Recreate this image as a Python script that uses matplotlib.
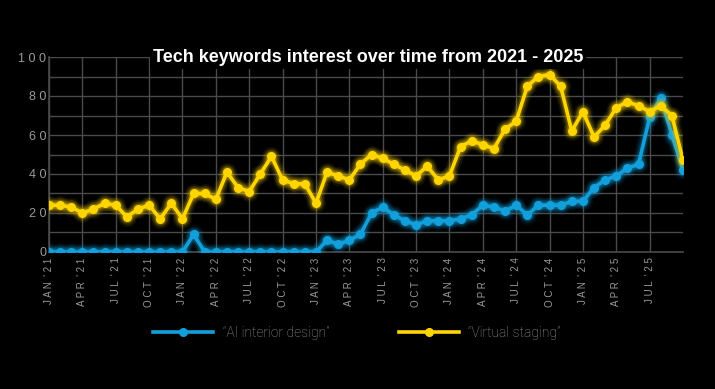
import matplotlib
matplotlib.use("Agg")
import matplotlib.pyplot as plt
import numpy as np

months = ["JAN", "FEB", "MAR", "APR", "MAY", "JUN", "JUL", "AUG", "SEP", "OCT", "NOV", "DEC"]
years = [2021, 2022, 2023, 2024, 2025]
dates = [(m, y) for y in years for m in months][:58]

ai_interior = [0]*12 + [0, 9] + [0]*10 + \
    [0, 6, 4, 6, 9, 20, 23, 19, 16, 14, 16, 16] + \
    [16, 17, 19, 24, 23, 21, 24, 19, 24, 24, 24, 26] + \
    [26, 33, 37, 39, 43, 45, 69, 79, 60, 42]
virtual_staging = [24, 24, 23, 20, 22, 25, 24, 18, 22, 24, 17, 25] + \
    [17, 30, 30, 27, 41, 33, 31, 40, 49, 37, 35, 35] + \
    [25, 41, 39, 37, 45, 50, 48, 45, 42, 39, 44, 37] + \
    [39, 54, 57, 55, 53, 63, 67, 85, 90, 91, 85, 62] + \
    [72, 59, 65, 74, 77, 75, 72, 75, 70, 47]

title = "Tech keywords interest over time from 2021 - 2025"
labels = ["\u201cAI interior design\u201d", "\u201cVirtual staging\u201d"]
BLUE = "#12a0dc"
YELLOW = "#ffd500"
GRID = "#4a4a4a"
TXT = "#9a9a9a"

fig = plt.figure(figsize=(7.15, 3.89), dpi=100, facecolor="black")
ax = fig.add_axes([49/715, 1-252/389, (683-49)/715, (252-57)/389])
ax.set_facecolor("black")
x = np.arange(len(dates))

def glow(y, c, lab, z):
    for lw, a in [(10, 0.07), (7.5, 0.12), (5, 0.22)]:
        ax.plot(x, y, color=c, lw=lw, alpha=a, solid_capstyle="round", zorder=z)
        ax.plot(x, y, 'o', color=c, ms=lw+3, alpha=a*0.7, zorder=z)
    ax.plot(x, y, color=c, lw=2.6, marker='o', ms=5.5, label=lab, zorder=z+1)

glow(ai_interior, BLUE, labels[0], 3)
glow(virtual_staging, YELLOW, labels[1], 5)

ax.set_xlim(0, 57)
ax.set_ylim(0, 100)
ax.set_yticks(np.arange(0, 101, 20))
ax.set_yticks(np.arange(10, 100, 20), minor=True)
ax.set_yticklabels([" ".join(str(v)) for v in range(0, 101, 20)], color=TXT, fontsize=9, family="Liberation Sans")
tick_idx = list(range(0, 57, 3))
ax.set_xticks(tick_idx)
ax.set_xticklabels([" ".join(dates[i][0]) + "  ' " + " ".join(str(dates[i][1])[2:]) for i in tick_idx],
                   rotation=90, color=TXT, fontsize=7, family="Liberation Sans")
ax.grid(True, which="both", color=GRID, lw=1)
ax.set_axisbelow(True)
for s in ["top", "right"]:
    ax.spines[s].set_visible(False)
for s in ["left", "bottom"]:
    ax.spines[s].set_color(GRID)
    ax.spines[s].set_linewidth(1.2)
ax.tick_params(axis="both", which="both", length=0, pad=4)
ax.tick_params(axis="y", pad=2)

fig.text(368/715, 1-58/389, title, ha="center", va="center", color="white", fontsize=13,
         fontweight="bold", family="Liberation Sans",
         bbox=dict(facecolor="black", edgecolor="none", pad=2))

leg = fig.legend(loc="center", bbox_to_anchor=(357/715, 1-333/389), ncol=2, frameon=False,
                 handlelength=4.3, columnspacing=5.0, handletextpad=0.7,
                 prop=dict(family="Roboto", weight="light", size=10))
for t in leg.get_texts():
    t.set_color(TXT)

fig.savefig("out.png", dpi=100, facecolor="black")
